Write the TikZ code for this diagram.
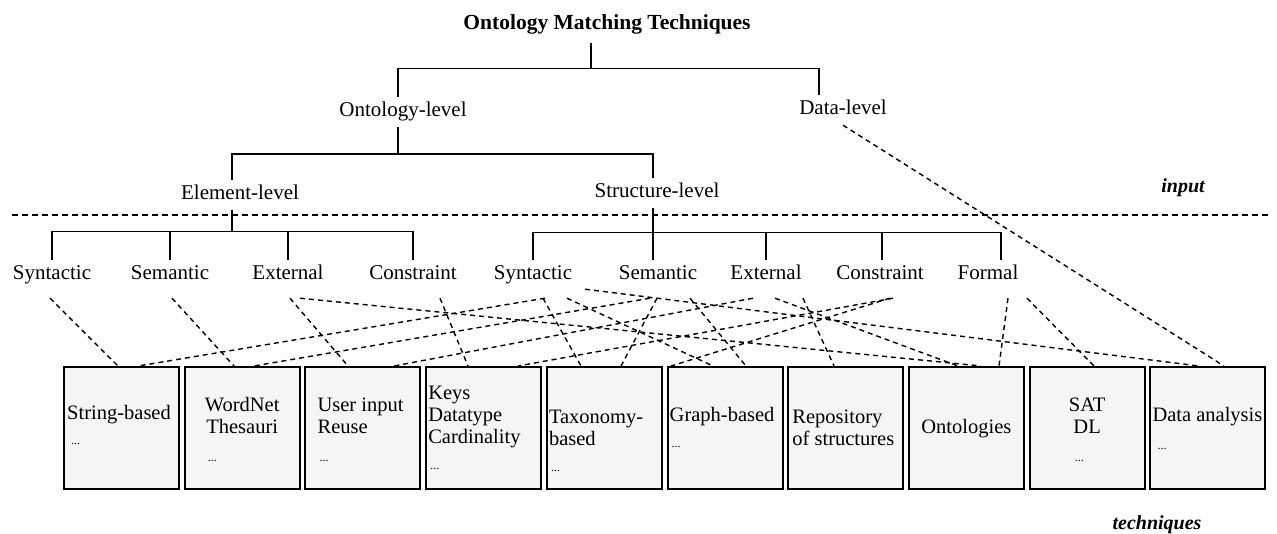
\documentclass[tikz,border=0pt]{standalone}
\usepackage{fontspec}
\setmainfont{Liberation Serif}
\usetikzlibrary{calc}
\tikzset{
  levellabel/.style={font=\fontsize{21}{24}\selectfont, inner xsep=0pt, inner ysep=5pt,
    text height=15pt, text depth=5pt, anchor=base},
  treeline/.style={line width=1.4pt},
  connline/.style={line width=1.4pt, dash pattern=on 5pt off 4pt},
  sepline/.style={line width=1.7pt, dash pattern=on 6pt off 4pt},
  techbox/.style={draw, line width=2pt, fill=gray!8, minimum width=115pt,
    minimum height=122pt, inner sep=0pt, anchor=north west},
  boxtext/.style={font=\fontsize{20.5}{22}\selectfont, inner sep=0pt, anchor=base west, align=left},
  boxmid/.style={font=\fontsize{20.5}{22}\selectfont, inner sep=0pt, anchor=base, align=center},
  moredots/.style={font=\fontsize{12}{12}\selectfont, inner sep=0pt, anchor=base west},
  sidetag/.style={font=\bfseries\itshape\fontsize{20}{22}\selectfont, inner sep=0pt, anchor=base},
}
\begin{document}
\begin{tikzpicture}[x=1pt,y=-1pt]
\fill[white] (0,0) rectangle (1277,534);
\useasboundingbox (0,0) rectangle (1277,534);

% --- classification tree ---
\node[levellabel, font=\bfseries\fontsize{21.5}{24}\selectfont, inner ysep=7.5pt] (root) at (607,30) {Ontology Matching Techniques};
\node[levellabel] (ont)    at (403,117) {Ontology-level};
\node[levellabel] (data)   at (843,115) {Data-level};
\node[levellabel] (elem)   at (240,200) {Element-level};
\node[levellabel] (struct) at (657,198) {Structure-level};

\node[levellabel] (eSyn) at (52,280)  {Syntactic};
\node[levellabel] (eSem) at (170,280) {Semantic};
\node[levellabel] (eExt) at (288,280) {External};
\node[levellabel] (eCon) at (413,280) {Constraint};
\node[levellabel] (sSyn) at (533,280) {Syntactic};
\node[levellabel] (sSem) at (658,280) {Semantic};
\node[levellabel] (sExt) at (766,280) {External};
\node[levellabel] (sCon) at (880,280) {Constraint};
\node[levellabel] (sFor) at (988,280) {Formal};

\draw[treeline] ($(root.south)+(-16,0)$) -- ++(0,26) coordinate (j0);
\draw[treeline] ($(ont.north)+(-5,0)$) |- (j0) -| ($(data.north)+(-24,0)$);
\draw[treeline] ($(ont.south)+(-5,0)$) -- ++(0,27) coordinate (j1);
\draw[treeline] ($(elem.north)+(-8,0)$) |- (j1) -| ($(struct.north)+(-4,0)$);

\draw[treeline] ($(elem.south)+(-8,0)$) -- ++(0,22);
\draw[treeline] (eSyn.north) -- ++(0,-28) -| (eCon.north);
\draw[treeline] (eSem.north) -- ++(0,-28);
\draw[treeline] (eExt.north) -- ++(0,-28);

\draw[treeline] ($(struct.south)+(-4,0)$) -- ++(0,25);
\draw[treeline] (sSyn.north) -- ++(0,-27) -| ($(sFor.north)+(13,0)$);
\draw[treeline] ($(sSem.north)+(-5,0)$) -- ++(0,-27);
\draw[treeline] (sExt.north) -- ++(0,-27);
\draw[treeline] ($(sCon.north)+(2,0)$) -- ++(0,-27);

% --- input / techniques separator ---
\draw[sepline] (12,215) -- (1268,215);
\node[sidetag] (inp) at (1183,193) {input};
\node[sidetag] (tq)  at (1157,529) {techniques};

% --- technique boxes ---
\foreach \i in {1,...,10}
  \node[techbox] (b\i) at ({63+120.7*(\i-1)},366) {};

% multi-line texts are placed by the baseline of their last line
\node[boxtext] (t1) at ($(b1.north west)+(4,53)$) {String-based};
\node[moredots] (d1) at ($(b1.north west)+(8,78)$) {...};
\node[boxmid] (t2) at ($(b2.north)+(0,67)$) {WordNet\\Thesauri};
\node[moredots] (d2) at ($(b2.north west)+(24,95)$) {...};
\node[boxtext] (t3) at ($(b3.north west)+(13,67)$) {User input\\Reuse};
\node[moredots] (d3) at ($(b3.north west)+(15,95)$) {...};
\node[boxtext] (t4) at ($(b4.north west)+(3,77)$) {Keys\\Datatype\\Cardinality};
\node[moredots] (d4) at ($(b4.north west)+(5,103)$) {...};
\node[boxtext] (t5) at ($(b5.north west)+(3,79)$) {Taxonomy-\\based};
\node[moredots] (d5) at ($(b5.north west)+(5,105)$) {...};
\node[boxtext] (t6) at ($(b6.north west)+(3,55)$) {Graph-based};
\node[moredots] (d6) at ($(b6.north west)+(5,81)$) {...};
\node[boxtext] (t7) at ($(b7.north west)+(5,79)$) {Repository\\of structures};
\node[boxmid] (t8) at ($(b8.north)+(0,67)$) {Ontologies};
\node[boxmid] (t9) at ($(b9.north)+(0,67)$) {SAT\\DL};
\node[moredots] (d9) at ($(b9.north west)+(46,95)$) {...};
\node[boxtext] (t10) at ($(b10.north west)+(3,55)$) {Data analysis};
\node[moredots] (d10) at ($(b10.north west)+(8,83)$) {...};

% --- which inputs feed which techniques ---
\draw[connline] ($(eSyn.south)+(-2,8)$) -- ($(b1.north)+(-3.5,0)$);
\draw[connline] ($(eSem.south)+(2,8)$)  -- ($(b2.north)+(-8.2,0)$);
\draw[connline] ($(eExt.south)+(2,8)$)  -- ($(b3.north)+(-14.9,0)$);
\draw[connline] ($(eExt.south)+(12,8)$) -- ($(b8.north)+(14.6,0)$);
\draw[connline] ($(eCon.south)+(27,8)$) -- ($(b4.north)+(-15.6,0)$);
\draw[connline] ($(sSyn.south)+(12,8)$) -- ($(b1.north)+(16.5,0)$);
\draw[connline] ($(sSyn.south)+(10,8)$) -- ($(b5.north)+(-23.3,0)$);
\draw[connline] ($(sSyn.south)+(34,8)$) -- ($(b6.north)+(-12,0)$);
\draw[connline] ($(sSyn.south)+(52,-1)$) -- ($(b10.north)+(-8.8,0)$);
\draw[connline] ($(sSem.south)+(-8,8)$) -- ($(b2.north)+(11.8,0)$);
\draw[connline] ($(sSem.south)+(-1,8)$) -- ($(b5.north)+(16.7,0)$);
\draw[connline] ($(sSem.south)+(32,8)$) -- ($(b6.north)+(21,0)$);
\draw[connline] ($(sExt.south)+(-13,8)$) -- ($(b3.north)+(31.1,0)$);
\draw[connline] ($(sExt.south)+(37,8)$) -- ($(b7.north)+(-11.7,0)$);
\draw[connline] ($(sExt.south)+(9,8)$)  -- ($(b8.north)+(-8.4,0)$);
\draw[connline] ($(sCon.south)+(13,8)$) -- ($(b4.north)+(34.4,0)$);
\draw[connline] ($(sCon.south)+(10,8)$) -- ($(b6.north)+(-54,0)$);
\draw[connline] ($(sFor.south)+(20,8)$) -- ($(b8.north)+(32.6,0)$);
\draw[connline] ($(sFor.south)+(39,8)$) -- ($(b9.north)+(6.9,0)$);
\draw[connline] (data.south) -- ($(b10.north)+(16.2,0)$);
\end{tikzpicture}
\end{document}
